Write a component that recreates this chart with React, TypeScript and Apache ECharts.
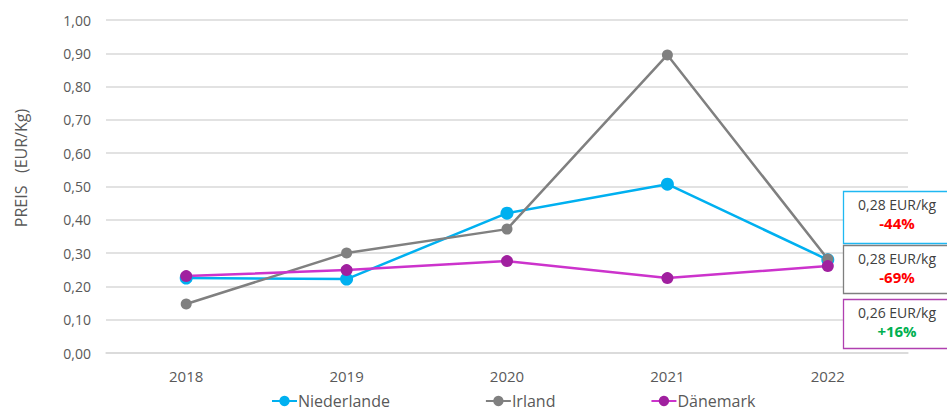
import React, { useEffect, useRef } from "react";
import * as echarts from "echarts";

const years = ["2018", "2019", "2020", "2021", "2022"];
const niederlande = [0.225, 0.222, 0.42, 0.507, 0.28];
const irland = [0.147, 0.3, 0.372, 0.895, 0.282];
const daenemark = [0.231, 0.249, 0.276, 0.225, 0.261];
const boxPrices = ["0,28 EUR/kg", "0,28 EUR/kg", "0,26 EUR/kg"];
const boxChanges = ["-44%", "-69%", "+16%"];
const yAxisTitle = "PREIS   (EUR/Kg)";

const FONT = "'Open Sans', 'Noto Sans', sans-serif";

export default function App() {
  const ref = useRef<HTMLDivElement>(null);
  useEffect(() => {
    const chart = echarts.init(ref.current!, null, { renderer: "svg" });
    const boxes = [
      { y: 191, h: 52, border: "#1FB8F2", color: "#FF0000" },
      { y: 245, h: 48, border: "#7F7F7F", color: "#FF0000" },
      { y: 299, h: 49, border: "#B040B0", color: "#00B050" },
    ];
    const graphic: any[] = [
      {
        type: "text",
        x: 21,
        y: 168,
        rotation: Math.PI / 2,
        style: { text: yAxisTitle, font: `16px ${FONT}`, fill: "#595959", align: "center", verticalAlign: "middle" },
      },
    ];
    boxes.forEach((b, i) => {
      graphic.push({
        type: "rect",
        shape: { x: 843.5, y: b.y + 0.5, width: 110, height: b.h },
        style: { fill: "#fff", stroke: b.border, lineWidth: 1.3 },
        z: 10,
      });
      graphic.push({
        type: "text",
        x: 897,
        y: b.y + 6,
        style: { text: boxPrices[i], font: `14px ${FONT}`, fill: "#404040", align: "center", verticalAlign: "top" },
        z: 11,
      });
      graphic.push({
        type: "text",
        x: 897,
        y: b.y + 24,
        style: { text: boxChanges[i], font: `bold 15px ${FONT}`, fill: b.color, align: "center", verticalAlign: "top" },
        z: 11,
      });
    });
    const mk = (name: string, data: number[], line: string, marker: string, size: number) => ({
      name,
      type: "line",
      data,
      symbol: "circle",
      symbolSize: size,
      lineStyle: { color: line, width: 2.5 },
      itemStyle: { color: marker },
      color: line,
    });
    chart.setOption({
      animation: false,
      grid: { left: 106, right: 39, top: 20, bottom: 61 },
      legend: {
        bottom: 0,
        left: 266,
        itemWidth: 25,
        itemHeight: 13,
        itemGap: 95,
        textStyle: { color: "#595959", fontSize: 16, fontFamily: FONT, padding: [0, 0, 0, -4] },
        data: ["Niederlande", "Irland", "Dänemark"],
      },
      xAxis: {
        type: "category",
        data: years,
        boundaryGap: true,
        axisLine: { show: true, lineStyle: { color: "#D9D9D9", width: 1.5 } },
        axisTick: { show: false },
        axisLabel: { color: "#595959", fontSize: 15, fontFamily: FONT, margin: 15 },
      },
      yAxis: {
        type: "value",
        min: 0,
        max: 1,
        interval: 0.1,
        axisLabel: {
          color: "#595959",
          fontSize: 14,
          fontFamily: FONT,
          margin: 15,
          formatter: (v: number) => v.toFixed(2).replace(".", ","),
        },
        splitLine: { lineStyle: { color: "#D9D9D9", width: 1.5 } },
      },
      series: [
        mk("Niederlande", niederlande, "#00B0F0", "#00B0F0", 13),
        mk("Irland", irland, "#808080", "#808080", 11),
        mk("Dänemark", daenemark, "#CC33CC", "#A0209F", 12),
      ],
      graphic,
    });
    return () => chart.dispose();
  }, []);
  return <div ref={ref} style={{ width: 947, height: 414, position: "absolute", left: 0, top: 0 }} />;
}
